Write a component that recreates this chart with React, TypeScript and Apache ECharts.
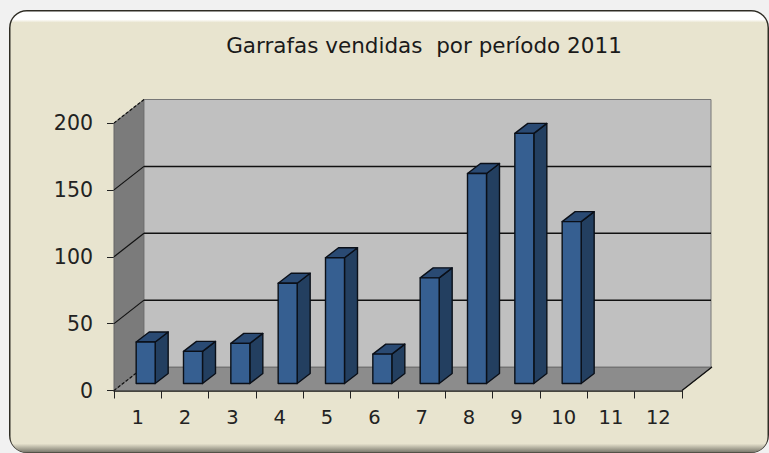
import React, { useEffect, useRef } from "react";
import * as echarts from "echarts";

const titleText = "Garrafas vendidas  por período 2011";
const categories = ["1", "2", "3", "4", "5", "6", "7", "8", "9", "10", "11", "12"];
const sales = [31, 24, 30, 75, 94, 22, 79, 157, 187, 121, null, null];
const gridTicks = [0, 50, 100, 150, 200];

const FONT = "DejaVu Sans";
const CREAM = "#e8e4cf";
const DEPTH_X = 30;
const DEPTH_Y = -23.5;
const BAR_X = 8.5;
const BAR_Y = -7;
const BAR_W = 19;
const BAR_DX = 13;
const BAR_DY = -10;

export default function App() {
  const ref = useRef<HTMLDivElement>(null);
  useEffect(() => {
    const chart = echarts.init(ref.current!, undefined, { renderer: "svg" });
    chart.setOption({
      animation: false,
      backgroundColor: "transparent",
      title: {
        text: titleText,
        left: 419,
        top: 29,
        textAlign: "center",
        textStyle: { fontFamily: FONT, fontSize: 21.5, fontWeight: "normal", color: "#1a1a1a" },
      },
      graphic: [
        { type: "rect", z: -10, shape: { x: 9, y: 10, width: 760, height: 443, r: 18 }, style: { fill: "#2e2c24" } },
        {
          type: "rect",
          z: -9,
          shape: { x: 10.5, y: 11.5, width: 757, height: 441, r: 16 },
          style: {
            fill: new echarts.graphic.LinearGradient(0, 0, 0, 1, [
              { offset: 0, color: "#ffffff" },
              { offset: 0.018, color: "#ffffff" },
              { offset: 0.025, color: CREAM },
              { offset: 0.98, color: CREAM },
              { offset: 1, color: "#77756a" },
            ]),
          },
        },
      ],
      grid: { left: 114, top: 123, width: 568, height: 267.5 },
      xAxis: {
        type: "category",
        data: categories,
        axisLine: { show: true, lineStyle: { color: "#111", width: 1.5 } },
        axisTick: { show: true, length: 8, lineStyle: { color: "#222", width: 1 } },
        axisLabel: { fontFamily: FONT, fontSize: 19.5, color: "#222", margin: 17 },
        splitLine: { show: false },
      },
      yAxis: {
        type: "value",
        min: 0,
        max: 200,
        interval: 50,
        axisLine: { show: true, lineStyle: { color: "#333", width: 1 } },
        axisTick: { show: true, length: 7, lineStyle: { color: "#222", width: 1 } },
        axisLabel: { fontFamily: FONT, fontSize: 20.5, color: "#222", margin: 21 },
        splitLine: { show: false },
      },
      series: [
        {
          type: "custom",
          z: 1,
          clip: false,
          silent: true,
          data: [0],
          renderItem: (params: any) => {
            const c = params.coordSys;
            const l = c.x, r = c.x + c.width, t = c.y, b = c.y + c.height;
            return {
              type: "group",
              children: [
                {
                  type: "polygon",
                  shape: { points: [[l, b], [r, b], [r + DEPTH_X, b + DEPTH_Y], [l + DEPTH_X, b + DEPTH_Y]] },
                  style: { fill: "#8c8c8c", stroke: "#555", lineWidth: 1 },
                },
                {
                  type: "polygon",
                  shape: { points: [[l, t], [l + DEPTH_X, t + DEPTH_Y], [l + DEPTH_X, b + DEPTH_Y], [l, b]] },
                  style: { fill: "#7b7b7b", stroke: "#666", lineWidth: 1 },
                },
                {
                  type: "rect",
                  shape: { x: l + DEPTH_X, y: t + DEPTH_Y, width: c.width - 1, height: c.height },
                  style: { fill: "#c0c0c0", stroke: "#777", lineWidth: 1 },
                },
                {
                  type: "line",
                  shape: { x1: r, y1: b, x2: r + DEPTH_X, y2: b + DEPTH_Y },
                  style: { stroke: "#111", lineWidth: 1.3 },
                },
              ],
            };
          },
        },
        {
          type: "custom",
          z: 2,
          clip: false,
          silent: true,
          data: gridTicks,
          encode: { y: 0 },
          renderItem: (params: any, api: any) => {
            const c = params.coordSys;
            const v = api.value(0);
            const y = api.coord([0, v])[1];
            const edge = v === 0 || v === 200;
            const children: any[] = [
              {
                type: "line",
                shape: { x1: c.x, y1: y, x2: c.x + DEPTH_X, y2: y + DEPTH_Y },
                style: { stroke: "#111", lineWidth: 1.2, lineDash: edge ? [3, 2] : undefined },
              },
            ];
            if (!edge) {
              children.push({
                type: "line",
                shape: { x1: c.x + DEPTH_X, y1: y + DEPTH_Y, x2: c.x + c.width + DEPTH_X - 1, y2: y + DEPTH_Y },
                style: { stroke: "#111", lineWidth: 1.5 },
              });
            }
            return { type: "group", children };
          },
        },
        {
          type: "custom",
          z: 3,
          clip: false,
          silent: true,
          data: sales.map((v, i) => [i, v]),
          encode: { x: 0, y: 1 },
          renderItem: (_: any, api: any) => {
            const v = api.value(1);
            if (isNaN(v)) return null;
            const i = api.value(0);
            const top = api.coord([i, v]);
            const base = api.coord([i, 0]);
            const x0 = top[0] + BAR_X - BAR_W / 2 - 0.5;
            const x1 = x0 + BAR_W;
            const yt = top[1] + BAR_Y;
            const yb = base[1] + BAR_Y;
            const line = { stroke: "#0a0f18", lineWidth: 1.4, lineJoin: "round" };
            return {
              type: "group",
              children: [
                {
                  type: "polygon",
                  shape: { points: [[x1, yt], [x1 + BAR_DX, yt + BAR_DY], [x1 + BAR_DX, yb + BAR_DY], [x1, yb]] },
                  style: { fill: "#233f60", ...line },
                },
                {
                  type: "polygon",
                  shape: { points: [[x0, yt], [x0 + BAR_DX, yt + BAR_DY], [x1 + BAR_DX, yt + BAR_DY], [x1, yt]] },
                  style: { fill: "#2a4a73", ...line },
                },
                {
                  type: "rect",
                  shape: { x: x0, y: yt, width: BAR_W, height: yb - yt },
                  style: { fill: "#365f91", ...line },
                },
              ],
            };
          },
        },
      ],
    });
    return () => chart.dispose();
  }, []);
  return (
    <div
      ref={ref}
      style={{ position: "fixed", left: 0, top: 0, width: 769, height: 453, background: "#f1f1f1" }}
    />
  );
}
